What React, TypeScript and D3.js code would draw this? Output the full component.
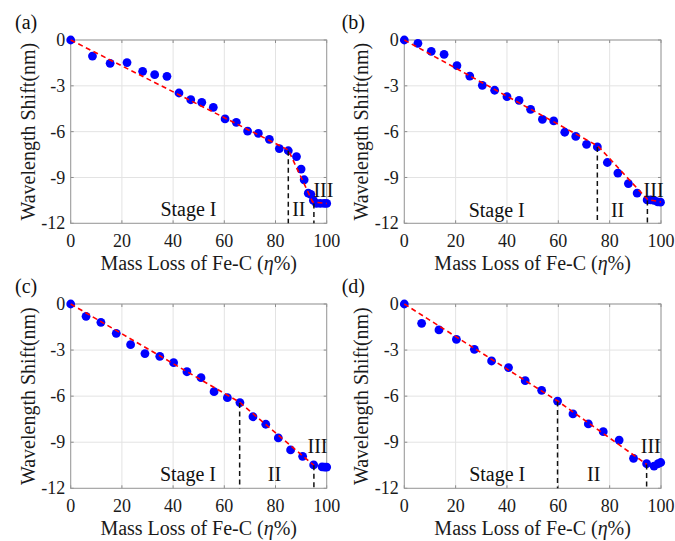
import React from 'react';
import * as d3 from 'd3';

// ---------- data ----------
const xTicks = [0, 20, 40, 60, 80, 100];
const yTicks = [0, -3, -6, -9, -12];
const panelLabels = ['(a)', '(b)', '(c)', '(d)'];
const stageNames = ['Stage I', 'II', 'III'];

// (a)
const aX = [0, 8.5, 15.4, 22.0, 28.1, 32.8, 37.6, 42.3, 46.9, 51.2, 55.7, 60.3, 64.7, 69.1, 73.3, 77.6, 81.5, 85.0, 88.2, 90.0, 91.2, 92.8, 93.8, 94.8, 96.0, 97.5, 99.0, 100];
const aY = [0, -1.05, -1.53, -1.48, -2.05, -2.27, -2.38, -3.47, -3.91, -4.08, -4.41, -5.17, -5.39, -5.96, -6.11, -6.5, -7.11, -7.25, -7.63, -8.45, -9.15, -10.03, -10.1, -10.5, -10.7, -10.7, -10.7, -10.7];
const aFitX = [0, 85, 94.5, 100];
const aFitY = [0, -7.2, -10.6, -10.7];
const aBreakX = [85, 95];
const aBreakY = [-7.25, -10.7];

// (b)
const bX = [0, 5.3, 10.5, 15.5, 20.5, 25.5, 30.4, 35.2, 40.0, 44.7, 49.2, 53.8, 58.2, 62.5, 66.8, 71.0, 75.2, 79.1, 83.2, 87.3, 90.7, 94.6, 96.0, 97.3, 98.7, 99.8];
const bY = [0, -0.22, -0.74, -0.94, -1.68, -2.36, -2.97, -3.29, -3.71, -3.95, -4.54, -5.19, -5.3, -6.04, -6.31, -6.83, -7.0, -8.02, -8.71, -9.4, -10.02, -10.47, -10.47, -10.5, -10.6, -10.62];
const bFitX = [0, 75.5, 94.8, 100];
const bFitY = [0, -6.95, -10.45, -10.6];
const bBreakX = [75.2, 94.7];
const bBreakY = [-7.0, -10.5];

// (c)
const cX = [0, 6.0, 11.8, 17.8, 23.4, 29.0, 34.8, 40.2, 45.4, 50.9, 56.0, 61.2, 66.1, 71.2, 76.2, 81.1, 85.9, 90.6, 94.9, 98.2, 99.2, 100];
const cY = [0, -0.8, -1.19, -1.91, -2.65, -3.23, -3.41, -3.82, -4.41, -4.8, -5.71, -6.1, -6.42, -7.34, -7.83, -8.72, -9.5, -9.92, -10.48, -10.6, -10.62, -10.62];
const cFitX = [0, 66, 95];
const cFitY = [0, -6.4, -10.5];
const cBreakX = [66, 95];
const cBreakY = [-6.45, -10.5];

// (d)
const dX = [0, 6.75, 13.5, 20.3, 27.3, 34.0, 40.6, 47.1, 53.5, 59.7, 65.7, 71.7, 77.5, 83.7, 89.3, 94.4, 97.3, 98.9, 99.9];
const dY = [0, -1.26, -1.69, -2.3, -2.95, -3.71, -4.14, -4.99, -5.62, -6.32, -7.16, -7.81, -8.31, -8.86, -10.05, -10.4, -10.55, -10.4, -10.32];
const dFitX = [0, 60, 94.5];
const dFitY = [0, -6.35, -10.45];
const dBreakX = [59.7, 94.4];
const dBreakY = [-6.35, -10.45];

// annotation anchors (data units)
const aStageX = [46, 89.1, 98.7];
const aStageY = [-11.52, -11.52, -10.3];
const bStageX = [36, 83.1, 97.1];
const bStageY = [-11.56, -11.56, -10.26];
const cStageX = [45.8, 79.6, 96.4];
const cStageY = [-11.5, -11.5, -9.72];
const dStageX = [36.2, 73.8, 96.0];
const dStageY = [-11.5, -11.5, -9.72];

// ---------- layout ----------
const W = 675;
const H = 541;
const FONT = "'Liberation Serif', Tinos, 'Noto Serif', FreeSerif, 'Nimbus Roman', 'Nimbus Roman No9 L', 'DejaVu Serif', Georgia, 'Times New Roman', Times, serif";
const TXT = { fontFamily: FONT };

const panels = [
  { label: panelLabels[0], left: 70.7, right: 326.7, top: 40, bottom: 223.3, labelX: 15, x: aX, y: aY, fx: aFitX, fy: aFitY, bx: aBreakX, by: aBreakY, sx: aStageX, sy: aStageY },
  { label: panelLabels[1], left: 404.3, right: 661, top: 40, bottom: 223.3, labelX: 341.7, x: bX, y: bY, fx: bFitX, fy: bFitY, bx: bBreakX, by: bBreakY, sx: bStageX, sy: bStageY },
  { label: panelLabels[2], left: 70.7, right: 326.7, top: 304, bottom: 488.3, labelX: 15, x: cX, y: cY, fx: cFitX, fy: cFitY, bx: cBreakX, by: cBreakY, sx: cStageX, sy: cStageY },
  { label: panelLabels[3], left: 404.3, right: 661, top: 304, bottom: 488.3, labelX: 341.7, x: dX, y: dY, fx: dFitX, fy: dFitY, bx: dBreakX, by: dBreakY, sx: dStageX, sy: dStageY },
];

function Panel({ p }: { p: any }) {
  const xs = d3.scaleLinear().domain([0, 100]).range([p.left, p.right]);
  const ys = d3.scaleLinear().domain([-12, 0]).range([p.bottom, p.top]);
  const line = d3
    .line<number>()
    .x((_, i) => xs(p.fx[i]))
    .y((v) => ys(v));
  const cy = (p.top + p.bottom) / 2;
  const cx = (p.left + p.right) / 2;
  return (
    <g>
      {xTicks.map((t) => (
        <line key={'gx' + t} x1={xs(t)} x2={xs(t)} y1={p.top} y2={p.bottom} stroke="#e3e3e3" strokeWidth={1} />
      ))}
      {yTicks.map((t) => (
        <line key={'gy' + t} x1={p.left} x2={p.right} y1={ys(t)} y2={ys(t)} stroke="#e3e3e3" strokeWidth={1} />
      ))}
      {xTicks.map((t) => (
        <g key={'tx' + t}>
          <line x1={xs(t)} x2={xs(t)} y1={p.bottom} y2={p.bottom - 3} stroke="#8c8c8c" />
          <line x1={xs(t)} x2={xs(t)} y1={p.top} y2={p.top + 3} stroke="#8c8c8c" />
        </g>
      ))}
      {yTicks.map((t) => (
        <g key={'ty' + t}>
          <line x1={p.left} x2={p.left + 3} y1={ys(t)} y2={ys(t)} stroke="#8c8c8c" />
          <line x1={p.right} x2={p.right - 3} y1={ys(t)} y2={ys(t)} stroke="#8c8c8c" />
        </g>
      ))}
      <rect x={p.left} y={p.top} width={p.right - p.left} height={p.bottom - p.top} fill="none" stroke="#9a9a9a" strokeWidth={1} />
      {p.x.map((v: number, i: number) => (
        <circle key={'pt' + i} cx={xs(v)} cy={ys(p.y[i])} r={4.4} fill="#0000ff" />
      ))}
      <path d={line(p.fy) || ''} fill="none" stroke="#ff0000" strokeWidth={1.6} strokeDasharray="5,3.5" />
      {p.bx.map((v: number, i: number) => (
        <line key={'b' + i} x1={xs(v)} x2={xs(v)} y1={ys(p.by[i])} y2={ys(-12)} stroke="#111" strokeWidth={1.5} strokeDasharray="5,3.5" />
      ))}
      {stageNames.map((s, i) => (
        <text key={'s' + i} style={TXT} x={xs(p.sx[i])} y={ys(p.sy[i])} textAnchor="middle" fontSize={20} fill="#111">
          {s}
        </text>
      ))}
      {xTicks.map((t) => (
        <text key={'xl' + t} style={TXT} x={xs(t)} y={p.bottom + 23.4} textAnchor="middle" fontSize={18} fill="#1a1a1a">
          {t}
        </text>
      ))}
      {yTicks.map((t) => (
        <text key={'yl' + t} style={TXT} x={p.left - 5.5} y={ys(t)} dy="0.34em" textAnchor="end" fontSize={18} fill="#1a1a1a">
          {t}
        </text>
      ))}
      <text style={TXT} x={cx} y={p.bottom + 47} textAnchor="middle" fontSize={20} fill="#1a1a1a">
        Mass Loss of Fe-C (<tspan fontStyle="italic">η</tspan>%)
      </text>
      <text style={TXT} transform={`translate(${p.left - 36},${cy}) rotate(-90)`} textAnchor="middle" fontSize={20} fill="#1a1a1a">
        Wavelength Shift(nm)
      </text>
      <text style={TXT} x={p.labelX} y={p.top - 11.5} fontSize={20} fill="#111">
        {p.label}
      </text>
    </g>
  );
}

export default function App() {
  return (
    <svg
      width={W}
      height={H}
      viewBox={`0 0 ${W} ${H}`}
      style={{ position: 'absolute', left: 0, top: 0, background: '#fff', fontFamily: FONT }}
    >
      <rect x={0} y={0} width={W} height={H} fill="#fff" />
      {panels.map((p, i) => (
        <Panel key={i} p={p} />
      ))}
    </svg>
  );
}
